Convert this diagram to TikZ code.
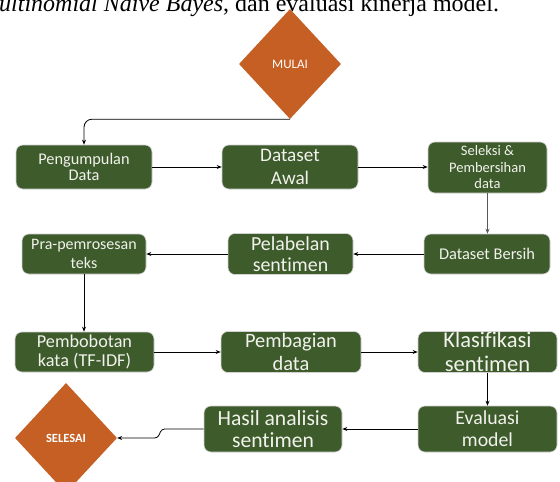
\documentclass[tikz,border=0pt]{standalone}
\usepackage{fontspec}
\setmainfont[Ligatures=NoCommon]{Carlito}
\newfontfamily\capfont{Liberation Serif}
\usetikzlibrary{shapes.geometric,arrows.meta}
\definecolor{boxgreen}{HTML}{3E5B2C}
\definecolor{boxtext}{HTML}{F2F2EC}
\definecolor{startorange}{HTML}{C55F24}
\newcommand{\myfs}[2]{\fontsize{#1}{#2}\selectfont}
\tikzset{
  procbox/.style={rectangle, rounded corners=7pt, draw=gray!35, line width=0.6pt,
    fill=boxgreen, text=boxtext, align=center, inner sep=0pt},
  termdiamond/.style={diamond, fill=startorange, text=white, inner sep=0pt,
    minimum width=102pt, minimum height=110pt},
  arr/.style={draw=black, line width=0.8pt, -{Stealth[length=5pt,width=4pt]}},
}
\begin{document}
\begin{tikzpicture}[x=1pt,y=-1pt]
\clip (0,0) rectangle (560,482);
\fill[white] (0,0) rectangle (560,482);
% cut-off caption line above the figure
\node[anchor=base west, inner sep=0pt, font=\capfont\myfs{24}{24}] (cap) at (-21,11)
  {\textit{Multinomial Naive Bayes}, dan evaluasi kinerja model.};
% terminals
\node[termdiamond, font=\myfs{13}{13}] (mulai) at (290,64) {MULAI};
\node[termdiamond, font=\bfseries\myfs{12.5}{13}] (selesai) at (66,438) {SELESAI};
% row 1
\node[procbox, minimum width=136pt, minimum height=44pt, font=\myfs{16.3}{16.5}] (peng) at (84,167) {Pengumpulan\\Data};
\node[procbox, minimum width=136pt, minimum height=44pt, font=\myfs{19.2}{23}] (dawal) at (290,167) {Dataset\\Awal};
\node[procbox, minimum width=119pt, minimum height=51pt, font=\myfs{14.5}{16.5}] (sel) at (487.5,167.5) {Seleksi \&\\Pembersihan\\data};
% row 2
\node[procbox, minimum width=126pt, minimum height=40pt, font=\myfs{16.4}{17}] (dbersih) at (487,254) {Dataset Bersih};
\node[procbox, minimum width=125pt, minimum height=41pt, font=\myfs{19.9}{21}] (pelabel) at (290.5,254) {Pelabelan\\sentimen};
\node[procbox, minimum width=124pt, minimum height=40pt, font=\myfs{16}{19}] (pra) at (84,254) {Pra-pemrosesan\\teks};
% row 3
\node[procbox, minimum width=139pt, minimum height=40pt, font=\myfs{18.2}{19.5}] (bobot) at (84.5,352) {Pembobotan\\kata (TF-IDF)};
\node[procbox, minimum width=140pt, minimum height=41pt, font=\myfs{20.4}{23}] (bagi) at (291,352) {Pembagian\\data};
\node[procbox, minimum width=139pt, minimum height=41pt, font=\myfs{22.5}{23.5}] (klas) at (487.5,352) {Klasifikasi\\sentimen};
% row 4
\node[procbox, minimum width=139pt, minimum height=46pt, font=\myfs{19.8}{22}] (eval) at (487.5,429) {Evaluasi\\model};
\node[procbox, minimum width=138pt, minimum height=46pt, font=\myfs{21.6}{22}] (hasil) at (273,429) {Hasil analisis\\sentimen};
% connectors
\draw[arr, rounded corners=8pt] (mulai.south) -| (peng.north);
\draw[arr] (peng.east) -- (dawal.west);
\draw[arr] (dawal.east) -- (sel.west |- dawal.east);
\draw[arr, draw=gray!70!black] (sel.south) -- (sel.south |- dbersih.north);
\draw[arr] (dbersih.west) -- (pelabel.east);
\draw[arr] (pelabel.west) -- (pra.east);
\draw[arr] (pra.south) -- (pra.south |- bobot.north);
\draw[arr] (bobot.east) -- (bagi.west);
\draw[arr] (bagi.east) -- (klas.west);
\draw[arr] (klas.south) -- (eval.north);
\draw[arr] (eval.west) -- (hasil.east);
\draw[arr, rounded corners=3pt] (hasil.west) -- ++(-42,0) -- ++(-4,9) -- (selesai.east);
\end{tikzpicture}
\end{document}
